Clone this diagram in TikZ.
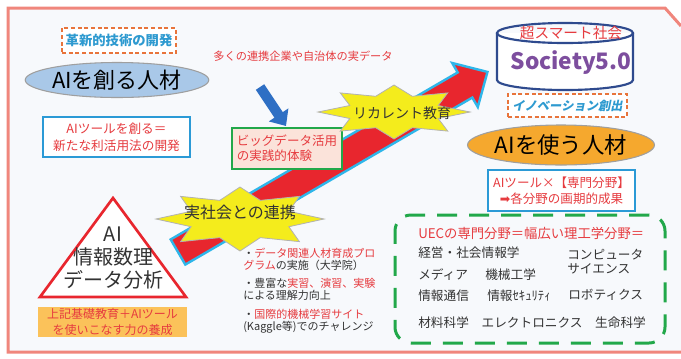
\documentclass[tikz,border=0pt]{standalone}
\usepackage{fontspec}
\setmainfont{Noto Sans CJK JP}
\newfontfamily\slantfont{Noto Sans CJK JP}[FakeSlant=0.2]
\newfontfamily\symfont{DejaVu Sans}
\usepackage{tikz}
\usetikzlibrary{shapes.geometric, arrows.meta, positioning, calc}

\definecolor{FrameRed}{HTML}{F0867C}
\definecolor{PaperBlue}{HTML}{F7F9FC}
\definecolor{TxtRed}{HTML}{E63B3F}
\definecolor{TxtDark}{HTML}{333333}
\definecolor{TechBlue}{HTML}{2E9AD0}
\definecolor{DashOrange}{HTML}{E8743B}
\definecolor{BoxBlue}{HTML}{2B9AD6}
\definecolor{BoxGreen}{HTML}{22A84A}
\definecolor{Navy}{HTML}{2E4A8E}
\definecolor{Purple}{HTML}{7D4E9E}
\definecolor{OvalBlue}{HTML}{A9C8E8}
\definecolor{OvalOrange}{HTML}{F5A82E}
\definecolor{StarYellow}{HTML}{F4EC1C}
\definecolor{ArrowRed}{HTML}{E8262E}
\definecolor{ArrowCyan}{HTML}{2EB6EA}
\definecolor{DataBlue}{HTML}{2E6FC4}
\definecolor{Peach}{HTML}{FBE3DA}
\definecolor{SkillFill}{HTML}{FBC25A}

\begin{document}
\begin{tikzpicture}
  [
    x=0.75pt, y=-0.75pt,
    Frame/.style={draw=FrameRed, line width=2.25pt, line join=miter},
    Dashbox/.style={draw=DashOrange, dash pattern=on 3pt off 2pt, line width=1.4pt, inner sep=0pt, fill=white},
    Bluebox/.style={draw=BoxBlue, line width=1.3pt, fill=white, align=center, text=TxtRed, inner sep=0pt},
    Greenbox/.style={draw=BoxGreen, line width=1.3pt, fill=Peach, align=left, text=TxtRed, inner sep=0pt},
    Oval/.style={ellipse, draw=gray!75, line width=0.8pt, inner sep=0pt, text=black},
    Burst/.style={fill=StarYellow, draw=gray!60, line width=0.6pt},
    BigArrow/.style={fill=ArrowRed, draw=ArrowCyan, line width=1.8pt, line join=miter},
    DownArrow/.style={draw=DataBlue, line width=7.5pt, -{Triangle[width=17pt, length=10pt]}},
    Field/.style={anchor=west, text=TxtDark, inner sep=0pt, font=\fontsize{9.5pt}{11pt}\selectfont},
    Bullet/.style={anchor=west, align=left, text=TxtDark, inner sep=0pt, font=\fontsize{8.25pt}{9pt}\selectfont}
  ]
  \useasboundingbox (0,0) rectangle (681,358);

  % Page
  \fill[PaperBlue] (8,8) -- (665,8) -- (681,26) -- (681,352) -- (8,352) -- cycle;
  \draw[Frame] (681,26) -- (665,8) -- (8,8) -- (8,352) -- (681,352);

  % Big arrow
  \coordinate (tail) at (178,252);
  \coordinate (head) at (465,85);
  \filldraw[BigArrow] ($(tail)!10.9pt!90:(head)$) -- ($(head)!10.9pt!-90:(tail)$)
    -- ($(head)!19.1pt!-90:(tail)$) -- ($(head)!-19.5pt!(tail)$)
    -- ($(head)!19.1pt!90:(tail)$) -- ($(head)!10.9pt!90:(tail)$)
    -- ($(tail)!10.9pt!-90:(head)$) -- cycle;

  % Left column
  \node[Dashbox, minimum width=85.5pt, minimum height=18.75pt, text=TechBlue,
    font=\fontsize{10pt}{12pt}\selectfont\bfseries] (tech) at (119,40.5) {革新的技術の開発};
  \node[Oval, fill=OvalBlue, minimum width=125.25pt, minimum height=26.25pt,
    font=\fontsize{16.5pt}{18pt}\selectfont] (makers) at (117,80) {AIを創る人材};
  \node[Bluebox, minimum width=110.25pt, minimum height=30pt,
    font=\fontsize{9.5pt}{12.75pt}\selectfont] (createtool) at (116.5,137) {AIツールを創る＝\\新たな利活用法の開発};

  % Real data
  \node[text=TxtRed, font=\fontsize{8.4pt}{10pt}\selectfont] (realdata) at (303,56) {多くの連携企業や自治体の実データ};
  \coordinate (dfrom) at (260,87);
  \coordinate (dto) at (286,126);
  \draw[DownArrow] (dfrom) -- (dto);
  \node[Greenbox, minimum width=82.5pt, minimum height=30.75pt,
    font=\fontsize{9.4pt}{11.25pt}\selectfont] (bigdata) at (287,148.5) {ビッグデータ活用\\の実践的体験};

  % Bursts
  \coordinate (rc) at (394,112);
  \draw[Burst] ($(rc)+(0:76 and 27)$)
    \foreach \a [count=\i from 2, evaluate=\i as \f using {isodd(\i) ? 1 : 0.63}] in {22.5,45,...,337.5}
      { -- ($(rc)+(\a:{76*\f} and {27*\f})$) } -- cycle;
  \node[text=TxtDark, font=\fontsize{10.5pt}{12pt}\selectfont] (recurrent) at (402,113) {リカレント教育};

  \coordinate (jc) at (240,219);
  \draw[Burst] ($(jc)+(0:84 and 32)$)
    \foreach \a [count=\i from 2, evaluate=\i as \f using {isodd(\i) ? 1 : 0.63}] in {22.5,45,...,337.5}
      { -- ($(jc)+(\a:{84*\f} and {32*\f})$) } -- cycle;
  \node[text=TxtDark, font=\fontsize{12pt}{14pt}\selectfont] (society) at (240,212) {実社会との連携};

  % Society 5.0
  \filldraw[draw=Navy, fill=white, line width=1.6pt] (497,33) -- (497,80)
    arc[start angle=180, end angle=360, x radius=51pt, y radius=7.5pt] -- (633,33);
  \draw[Navy, line width=1.6pt] (565,33) ellipse [x radius=51pt, y radius=7.5pt];
  \node[text=TxtRed, font=\fontsize{11pt}{13pt}\selectfont] (smart) at (571,33) {超スマート社会};
  \node[text=Purple, font=\fontsize{17pt}{19pt}\selectfont\bfseries] (s50) at (571,63) {Society5.0};
  \node[Dashbox, minimum width=89.25pt, minimum height=17.25pt, text=TechBlue,
    font=\fontsize{9.2pt}{11pt}\slantfont\bfseries] (innov) at (567.5,105.5) {イノベーション創出};
  \node[Oval, fill=OvalOrange, minimum width=123.75pt, minimum height=30pt,
    font=\fontsize{16.8pt}{18pt}\selectfont] (users) at (561,145) {AIを使う人材};
  \node[Bluebox, minimum width=110.25pt, minimum height=30.75pt,
    font=\fontsize{9.4pt}{12pt}\selectfont] (usetool) at (561.5,190.5) {AIツール×【専門分野】\\{\symfont ➡}各分野の画期的成果};

  % UEC fields
  \node[draw=BoxGreen, line width=2.25pt, dash pattern=on 15pt off 9pt, rounded corners=12pt,
    minimum width=202.5pt, minimum height=96pt] (uecbox) at (530,279) {};
  \node[Field, text=TxtRed, font=\fontsize{10pt}{12pt}\selectfont] (uec) at (418,233) {UECの専門分野＝幅広い理工学分野＝};
  \node[Field] (mgmt) at (418,253) {経営・社会情報学};
  \node[Field] (media) at (418,275) {メディア};
  \node[Field] (mech) at (485,275) {機械工学};
  \node[Field] (comm) at (418,296) {情報通信};
  \node[Field] (secu) at (487,296) {情報ｾｷｭﾘﾃｨ};
  \node[Field] (comp) at (567,255) {コンピュータ};
  \node[Field] (sci) at (567,269) {サイエンス};
  \node[Field] (robo) at (568,295) {ロボティクス};
  \node[Field] (matl) at (418,323) {材料科学　エレクトロニクス　生命科学};

  % Bullets
  \node[Bullet] (b1) at (243,259) {・\textcolor{TxtRed}{データ関連人材育成プロ}\\\textcolor{TxtRed}{グラム}の実施（大学院）};
  \node[Bullet] (b2) at (243,289) {・豊富な\textcolor{TxtRed}{実習、演習、実験}\\による理解力向上};
  \node[Bullet] (b3) at (243,321.5) {・\textcolor{TxtRed}{国際的機械学習サイト}\\(Kaggle等)でのチャレンジ};

  % Triangle
  \coordinate (tritop) at (113,198);
  \coordinate (trileft) at (40,297);
  \coordinate (triright) at (186,297);
  \filldraw[draw=ArrowRed, fill=white, line width=2pt, line join=miter] (tritop) -- (trileft) -- (triright) -- cycle;
  \node[align=center, text=TxtDark, font=\fontsize{15pt}{17pt}\selectfont] (basics) at (113,258) {AI\\情報数理\\データ分析};
  \node[fill=SkillFill, text=TxtRed, align=center, inner sep=0pt, minimum width=111.75pt, minimum height=22.5pt,
    font=\fontsize{9pt}{12.5pt}\selectfont] (skill) at (112.5,322) {上記基礎教育＋AIツール\\を使いこなす力の養成};

\end{tikzpicture}
\end{document}
